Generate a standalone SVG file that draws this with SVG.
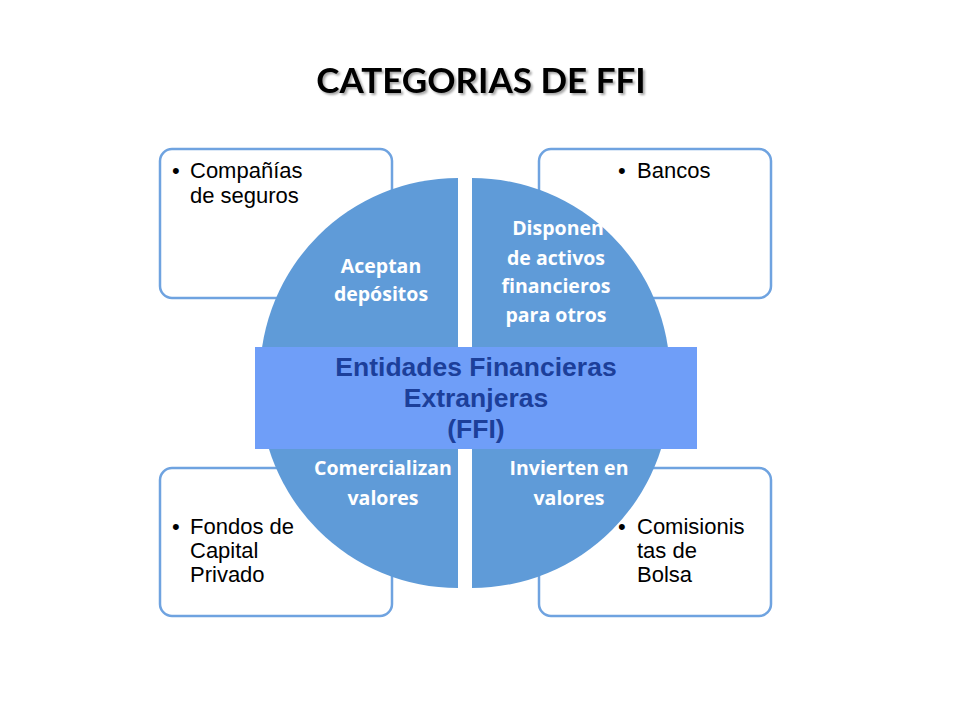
<svg xmlns="http://www.w3.org/2000/svg" width="960" height="720" viewBox="0 0 960 720">
<defs>
<style>
.box{fill:#ffffff;stroke:#6fa3e0;stroke-width:2.5}
.q{fill:#5f9bd8}
.bt{font-family:"Liberation Sans",Arial,sans-serif;font-size:22px;fill:#000}
.qt{font-family:"Open Sans",Lato,sans-serif;font-weight:bold;font-size:19.5px;fill:#ffffff;text-anchor:middle}
.ct{font-family:"Liberation Sans",Arial,sans-serif;font-weight:bold;font-size:26.5px;fill:#1c3f9a;text-anchor:middle}
.title{font-family:Lato,"Open Sans",sans-serif;font-weight:bold;font-size:35px;fill:#000;text-anchor:middle}
</style>
<filter id="sh" x="-5%" y="-20%" width="110%" height="150%">
<feGaussianBlur in="SourceAlpha" stdDeviation="1.2"/>
<feOffset dx="1.5" dy="2" result="b"/>
<feFlood flood-color="#000" flood-opacity="0.35"/>
<feComposite in2="b" operator="in"/>
<feMerge><feMergeNode/><feMergeNode in="SourceGraphic"/></feMerge>
</filter>
</defs>
<rect width="960" height="720" fill="#ffffff"/>
<text class="title" x="481" y="93" filter="url(#sh)">CATEGORIAS DE FFI</text>

<g id="box-tl"><rect class="box" x="160" y="149" width="232" height="149" rx="12"/>
<text class="bt" x="172" y="178">•</text><text class="bt" x="190" y="178">Compañías</text><text class="bt" x="190" y="203">de seguros</text></g>
<g id="box-tr"><rect class="box" x="539" y="149" width="232" height="149" rx="12"/>
<text class="bt" x="618" y="178">•</text><text class="bt" x="637" y="178">Bancos</text></g>
<g id="box-bl"><rect class="box" x="160" y="468" width="232" height="148" rx="12"/>
<text class="bt" x="172" y="534">•</text><text class="bt" x="190" y="534">Fondos de</text><text class="bt" x="190" y="558">Capital</text><text class="bt" x="190" y="582">Privado</text></g>
<g id="box-br"><rect class="box" x="539" y="468" width="232" height="148" rx="12"/>
<text class="bt" x="618" y="534">•</text><text class="bt" x="637" y="534">Comisionis</text><text class="bt" x="637" y="558">tas de</text><text class="bt" x="637" y="582">Bolsa</text></g>

<g id="q-tl"><path class="q" d="M458,376 L260,376 A198,198 0 0 1 458,178 Z"/>
<text class="qt" x="381" y="273">Aceptan</text><text class="qt" x="381" y="301">depósitos</text></g>
<g id="q-tr"><path class="q" d="M472,376 L472,178 A198,198 0 0 1 670,376 Z"/>
<text class="qt" x="558" y="235">Disponen</text><text class="qt" x="556" y="265">de activos</text><text class="qt" x="556" y="293">financieros</text><text class="qt" x="556" y="322">para otros</text></g>
<g id="q-bl"><path class="q" d="M458,390 L458,588 A198,198 0 0 1 260,390 Z"/>
<text class="qt" x="383" y="475">Comercializan</text><text class="qt" x="383" y="505">valores</text></g>
<g id="q-br"><path class="q" d="M472,390 L670,390 A198,198 0 0 1 472,588 Z"/>
<text class="qt" x="569" y="475">Invierten en</text><text class="qt" x="569" y="505">valores</text></g>

<g id="center"><rect x="255" y="347" width="442" height="102" fill="#6f9ef8"/>
<text class="ct" x="476" y="376">Entidades Financieras</text>
<text class="ct" x="476" y="407">Extranjeras</text>
<text class="ct" x="476" y="438">(FFI)</text></g>
<g id="connectors"></g>
</svg>
